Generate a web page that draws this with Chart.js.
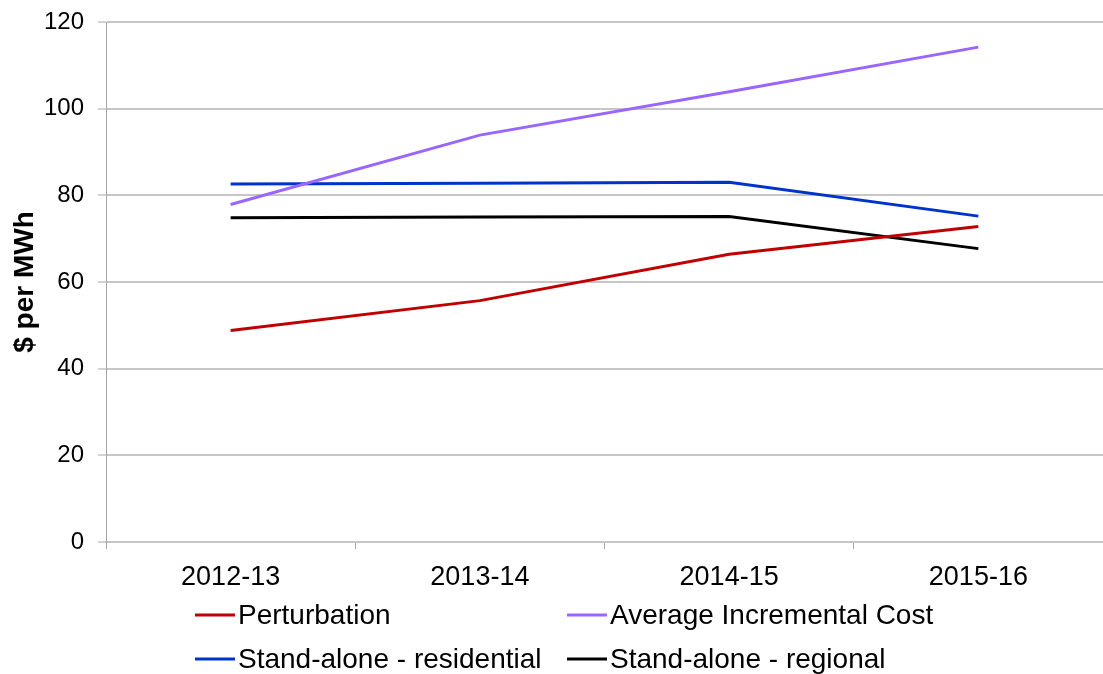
<!DOCTYPE html>
<html>
<head>
<meta charset="utf-8">
<script src="https://cdn.jsdelivr.net/npm/chart.js@4"></script>
<style>
  html, body { margin: 0; padding: 0; background: #fff; }
  #wrap { width: 1103px; height: 674px; position: relative; overflow: hidden; }
</style>
</head>
<body>
<div id="wrap"><canvas id="c" width="1103" height="674"></canvas></div>
<script>
// Financial years on the category axis
const years = ['2012-13', '2013-14', '2014-15', '2015-16'];

// Cost estimates, $ per MWh
const perturbation = [48.8, 55.7, 66.4, 72.8];
const averageIncrementalCost = [77.9, 93.9, 103.9, 114.2];
const standAloneResidential = [82.6, 82.8, 83.0, 75.2];
const standAloneRegional = [74.8, 75.0, 75.1, 67.7];

const seriesNames = ['Perturbation', 'Average Incremental Cost', 'Stand-alone - residential', 'Stand-alone - regional'];
const seriesColors = ['#c00000', '#9966ff', '#0033cc', '#000000'];

const FONT = "'Liberation Sans', Arial, sans-serif";

// Two-column legend drawn under the axis
const gridLegend = {
  id: 'gridLegend',
  afterDraw(chart) {
    const ctx = chart.ctx;
    const cols = [195, 567];
    const rows = [615, 659];
    ctx.save();
    ctx.font = '28px ' + FONT;
    ctx.textBaseline = 'middle';
    ctx.textAlign = 'left';
    chart.data.datasets.forEach((ds, i) => {
      const x = cols[i % 2];
      const y = rows[Math.floor(i / 2)];
      ctx.strokeStyle = ds.borderColor;
      ctx.lineWidth = 3;
      ctx.beginPath();
      ctx.moveTo(x, y);
      ctx.lineTo(x + 40, y);
      ctx.stroke();
      ctx.fillStyle = '#000';
      ctx.fillText(ds.label, x + 43, y + 1);
    });
    ctx.restore();
  }
};

const values = [perturbation, averageIncrementalCost, standAloneResidential, standAloneRegional];

new Chart(document.getElementById('c'), {
  type: 'line',
  data: {
    labels: years,
    datasets: values.map((v, i) => ({
      label: seriesNames[i],
      data: v,
      borderColor: seriesColors[i],
      backgroundColor: seriesColors[i],
      borderWidth: 3,
      pointRadius: 0,
      tension: 0,
      fill: false
    }))
  },
  options: {
    responsive: false,
    animation: false,
    devicePixelRatio: 1,
    layout: { autoPadding: false, padding: { top: 22, right: -5, bottom: 82, left: 8 } },
    plugins: {
      legend: { display: false },
      tooltip: { enabled: false }
    },
    scales: {
      x: {
        offset: true,
        afterFit(scale) {
          scale.height = 50;
          scale.paddingLeft = 0;
          scale.paddingRight = 0;
        },
        grid: {
          offset: true,
          drawOnChartArea: false,
          drawTicks: true,
          tickLength: 7,
          color: '#a6a6a6',
          lineWidth: 1
        },
        border: { display: true, color: '#c6c6c6', width: 2 },
        ticks: {
          color: '#000',
          font: { family: FONT, size: 27 },
          padding: 12,
          maxRotation: 0
        }
      },
      y: {
        min: 0,
        max: 120,
        afterFit(scale) {
          scale.width = 98;
          scale.paddingTop = 0;
          scale.paddingBottom = 0;
        },
        ticks: {
          stepSize: 20,
          color: '#000',
          font: { family: FONT, size: 24 },
          padding: 14
        },
        grid: {
          color: '#c6c6c6',
          lineWidth: 2,
          tickLength: 8,
          tickColor: '#a6a6a6',
          tickWidth: 1
        },
        border: { display: true, color: '#a6a6a6', width: 1 },
        title: {
          display: true,
          text: '$ per MWh',
          color: '#000',
          font: { family: FONT, size: 28, weight: 'bold' },
          padding: { top: 0, bottom: 8 }
        }
      }
    }
  },
  plugins: [gridLegend]
});
</script>
</body>
</html>
